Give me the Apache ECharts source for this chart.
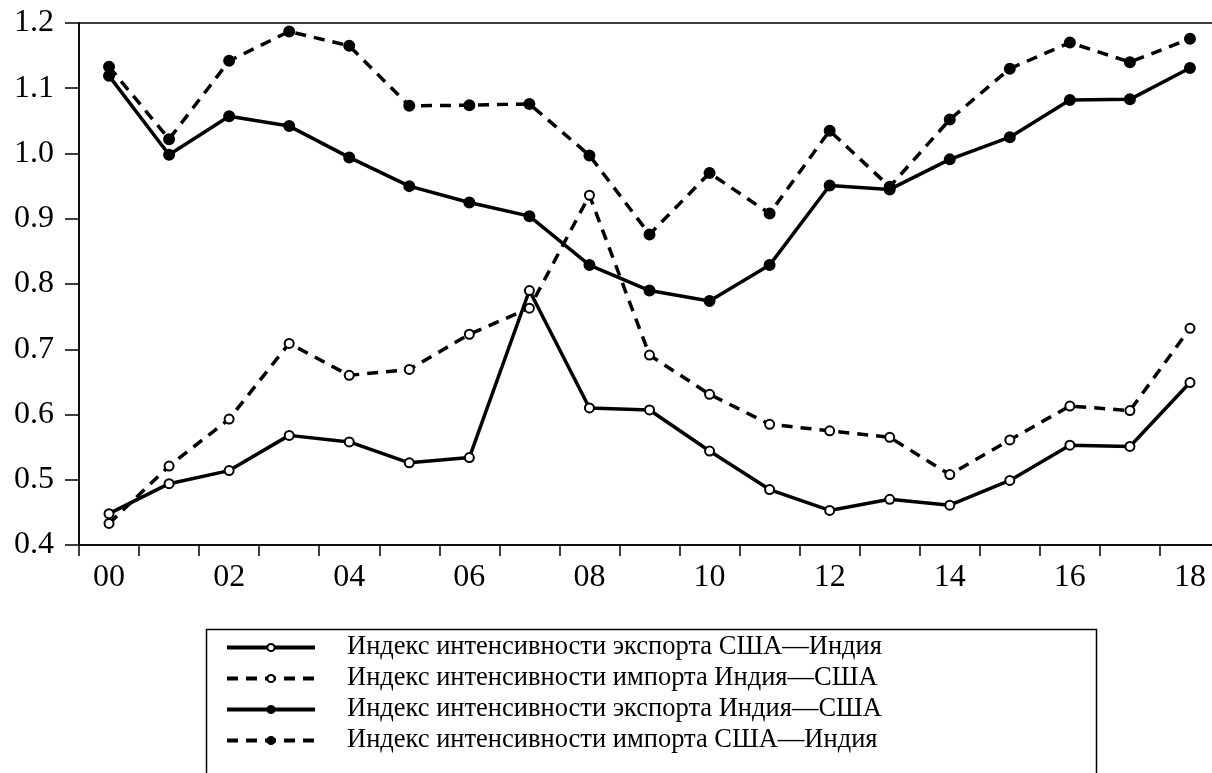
<!DOCTYPE html>
<html>
<head>
<meta charset="utf-8">
<script src="https://cdn.jsdelivr.net/npm/echarts@6/dist/echarts.min.js"></script>
<style>
  html, body { margin: 0; padding: 0; background: #fff; }
  #chart { width: 1212px; height: 773px; }
</style>
</head>
<body>
<div id="chart"></div>
<script>
// годы 2000–2018
const years = ['00', '01', '02', '03', '04', '05', '06', '07', '08', '09',
  '10', '11', '12', '13', '14', '15', '16', '17', '18']

const seriesNames = [
  'Индекс интенсивности экспорта США—Индия',
  'Индекс интенсивности импорта Индия—США',
  'Индекс интенсивности экспорта Индия—США',
  'Индекс интенсивности импорта США—Индия'
]

const exportUsIndia = [0.448, 0.494, 0.514, 0.568, 0.558, 0.526, 0.534, 0.790, 0.610, 0.607,
  0.544, 0.485, 0.453, 0.470, 0.461, 0.499, 0.553, 0.551, 0.649]
const importIndiaUs = [0.433, 0.521, 0.593, 0.709, 0.660, 0.669, 0.723, 0.763, 0.936, 0.691,
  0.631, 0.585, 0.575, 0.565, 0.508, 0.561, 0.613, 0.606, 0.732]
const exportIndiaUs = [1.119, 0.998, 1.057, 1.042, 0.994, 0.950, 0.925, 0.904, 0.829, 0.790,
  0.774, 0.829, 0.951, 0.945, 0.991, 1.025, 1.082, 1.083, 1.131]
const importUsIndia = [1.133, 1.022, 1.142, 1.187, 1.165, 1.073, 1.074, 1.076, 0.997, 0.876,
  0.970, 0.908, 1.035, 0.949, 1.052, 1.130, 1.170, 1.140, 1.176]

const serifFont = '"Liberation Serif", "DejaVu Serif", serif'

const makeSeries = (name, data, dashed, filled) => ({
  name: name,
  type: 'line',
  data: data,
  symbol: 'circle',
  symbolSize: filled ? 10 : 9,
  showSymbol: true,
  lineStyle: {
    color: '#000',
    width: 3.5,
    type: dashed ? [11, 8] : 'solid'
  },
  itemStyle: {
    color: filled ? '#000' : '#fff',
    borderColor: '#000',
    borderWidth: 2
  },
  emphasis: { disabled: true },
  z: filled ? 3 : 2
})

const chart = echarts.init(document.getElementById('chart'), null, { renderer: 'canvas' })

const option = {
  backgroundColor: '#fff',
  animation: false,
  grid: {
    left: 79,
    top: 23,
    width: 1141,
    height: 522,
    outerBoundsMode: 'none',
    containLabel: false,
    show: true,
    borderColor: '#000',
    borderWidth: 1.5,
    backgroundColor: 'transparent'
  },
  xAxis: {
    type: 'category',
    data: years,
    boundaryGap: true,
    axisLine: { lineStyle: { color: '#000', width: 1.5 } },
    axisTick: {
      show: true,
      interval: 0,
      alignWithLabel: false,
      length: 11,
      lineStyle: { color: '#000', width: 1.5 }
    },
    axisLabel: {
      interval: 1,
      color: '#000',
      fontFamily: serifFont,
      fontSize: 32,
      margin: 17
    },
    splitLine: { show: false }
  },
  yAxis: {
    type: 'value',
    min: 0.4,
    max: 1.2,
    interval: 0.1,
    axisLine: { show: true, lineStyle: { color: '#000', width: 1.5 } },
    axisTick: { show: true, length: 14, lineStyle: { color: '#000', width: 1.5 } },
    axisLabel: {
      color: '#000',
      fontFamily: serifFont,
      fontSize: 32,
      margin: 25,
      formatter: v => v.toFixed(1)
    },
    splitLine: { show: false }
  },
  legend: {
    orient: 'vertical',
    left: 225,
    top: 634,
    padding: 0,
    itemWidth: 88,
    itemHeight: 9,
    itemGap: 4,
    selectedMode: false,
    data: seriesNames,
    lineStyle: { width: 4 },
    textStyle: {
      color: '#000',
      fontFamily: serifFont,
      fontSize: 26.5,
      lineHeight: 24,
      padding: [0, 0, 0, 27]
    }
  },
  graphic: [{
    type: 'rect',
    left: 204,
    top: 627,
    shape: { width: 890, height: 160 },
    style: { fill: 'none', stroke: '#000', lineWidth: 1.5 },
    silent: true
  }],
  series: [
    makeSeries(seriesNames[0], exportUsIndia, false, false),
    makeSeries(seriesNames[1], importIndiaUs, true, false),
    makeSeries(seriesNames[2], exportIndiaUs, false, true),
    makeSeries(seriesNames[3], importUsIndia, true, true)
  ]
}

chart.setOption(option)
</script>
</body>
</html>
